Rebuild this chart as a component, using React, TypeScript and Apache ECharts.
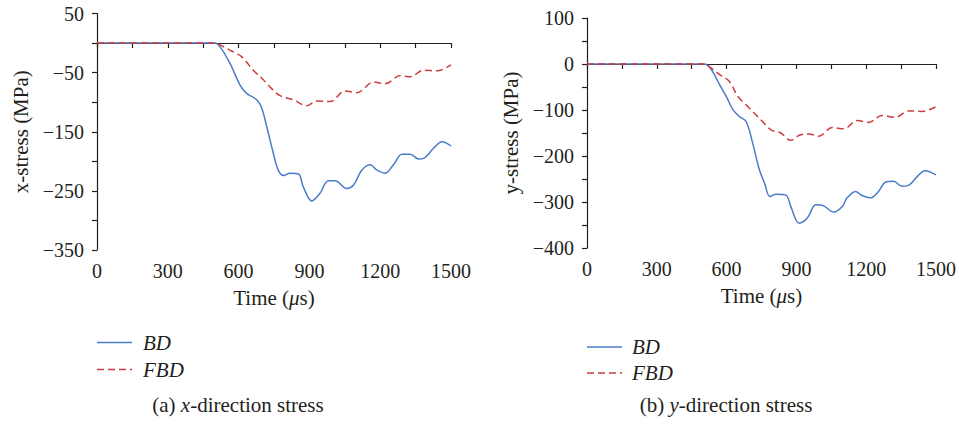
import React, { useEffect, useRef } from 'react';
import * as echarts from 'echarts';

// ---- data ----
const xTimeBD = [0, 500, 521, 563, 606, 634, 677, 698, 719, 747, 768, 790, 818, 853, 874, 910, 945, 980, 1009, 1058, 1087, 1122, 1158, 1186, 1221, 1256, 1292, 1327, 1363, 1384, 1426, 1462, 1500];
const xStressBD = [0, 0, -6, -34, -71, -85, -96, -110, -141, -186, -215, -224, -220, -221, -243, -267, -254, -233, -233, -246, -240, -215, -206, -215, -220, -206, -188, -188, -196, -195, -178, -167, -174];

const xTimeFBD = [0, 500, 521, 563, 613, 662, 705, 740, 776, 832, 889, 931, 988, 1051, 1101, 1172, 1221, 1285, 1327, 1384, 1441, 1500];
const xStressFBD = [0, 0, -3, -12, -23, -46, -62, -77, -89, -96, -106, -98, -99, -81, -84, -66, -69, -55, -57, -46, -47, -37];

const yTimeBD = [0, 505, 534, 570, 598, 627, 655, 684, 712, 741, 763, 786, 812, 855, 876, 912, 947, 983, 1011, 1061, 1097, 1118, 1154, 1182, 1218, 1253, 1282, 1318, 1353, 1382, 1417, 1453, 1500];
const yStressBD = [0, 0, -12, -45, -70, -99, -114, -125, -172, -230, -259, -288, -283, -285, -310, -346, -335, -306, -307, -322, -310, -291, -277, -286, -291, -277, -257, -255, -266, -264, -246, -232, -241];

const yTimeFBD = [0, 505, 534, 570, 612, 648, 698, 747, 791, 833, 876, 912, 954, 997, 1054, 1104, 1161, 1211, 1268, 1325, 1382, 1439, 1500];
const yStressFBD = [0, 0, -9, -23, -38, -70, -96, -121, -143, -150, -166, -155, -152, -157, -138, -141, -123, -127, -112, -116, -102, -103, -93];

const seriesNames = ['BD', 'FBD'];
const xAxisName = 'Time ({i|μ}s)';
const yAxisNames = ['x-stress (MPa)', 'y-stress (MPa)'];
const captions = [
  ['(a) ', 'x', '-direction stress'],
  ['(b) ', 'y', '-direction stress'],
];

// ---- styling ----
const FONT = '"Liberation Serif", "DejaVu Serif", "Times New Roman", serif';
const TEXT = '#231f20';
const BLUE = '#4a7bcb';
const RED = '#cc3d3d';

const pairs = (t: number[], v: number[]) => t.map((x, i) => [x, v[i]]);
const fmtNum = (v: number) => String(v).replace('-', '\u2212');

function xAxis(gridIndex: number) {
  return {
    type: 'value',
    gridIndex,
    min: 0,
    max: 1500,
    interval: 150,
    name: xAxisName,
    nameLocation: 'middle',
    nameGap: 37,
    nameTextStyle: {
      fontFamily: FONT,
      fontSize: 21,
      color: TEXT,
      rich: { i: { fontFamily: FONT, fontSize: 21, fontStyle: 'italic', color: TEXT } },
    },
    axisLine: { show: true, lineStyle: { color: TEXT, width: 1.2 } },
    axisTick: { show: true, inside: false, length: 5, lineStyle: { color: TEXT, width: 1.2 } },
    axisLabel: {
      fontFamily: FONT,
      fontSize: 20,
      color: TEXT,
      margin: 11,
      formatter: (v: number) => (v % 300 === 0 ? fmtNum(v) : ''),
    },
    splitLine: { show: false },
  };
}

function yAxis(gridIndex: number, min: number, max: number, name: string, labelOffset: number) {
  return {
    type: 'value',
    gridIndex,
    min,
    max,
    interval: 50,
    name,
    nameLocation: 'middle',
    nameGap: 66,
    nameTextStyle: { fontFamily: FONT, fontSize: 21, color: TEXT },
    axisLine: { show: true, onZero: false, lineStyle: { color: TEXT, width: 1.2 } },
    axisTick: { show: true, inside: false, length: 5, lineStyle: { color: TEXT, width: 1.2 } },
    axisLabel: {
      fontFamily: FONT,
      fontSize: 20,
      color: TEXT,
      margin: 13,
      formatter: (v: number) => ((((v - labelOffset) % 100) + 100) % 100 === 0 ? fmtNum(v) : ''),
    },
    splitLine: { show: false },
  };
}

function line(name: string, data: number[][], idx: number, dashed: boolean) {
  return {
    type: 'line',
    name,
    xAxisIndex: idx,
    yAxisIndex: idx,
    data,
    smooth: 0.35,
    symbol: 'none',
    lineStyle: { color: dashed ? RED : BLUE, width: 1.5, type: dashed ? [7, 4] : 'solid' },
    itemStyle: { color: dashed ? RED : BLUE },
    z: dashed ? 3 : 2,
  };
}

function legend(x: number, y1: number, y2: number, textX: number) {
  return [
    { type: 'line', shape: { x1: x, y1, x2: x + 35, y2: y1 }, style: { stroke: BLUE, lineWidth: 1.5 } },
    { type: 'text', x: textX, y: y1, style: { text: seriesNames[0], font: `italic 21px ${FONT}`, fill: TEXT, verticalAlign: 'middle' } },
    { type: 'line', shape: { x1: x, y1: y2, x2: x + 35, y2 }, style: { stroke: RED, lineWidth: 1.5, lineDash: [7, 4] } },
    { type: 'text', x: textX, y: y2, style: { text: seriesNames[1], font: `italic 21px ${FONT}`, fill: TEXT, verticalAlign: 'middle' } },
  ];
}

function caption(cx: number, y: number, parts: string[]) {
  return {
    type: 'text',
    x: cx,
    y,
    style: {
      text: `{n|${parts[0]}}{i|${parts[1]}}{n|${parts[2]}}`,
      align: 'center',
      verticalAlign: 'middle',
      rich: {
        n: { fontFamily: FONT, fontSize: 21, fill: TEXT, color: TEXT },
        i: { fontFamily: FONT, fontSize: 21, fontStyle: 'italic', fill: TEXT, color: TEXT },
      },
    },
  };
}

const option = {
  animation: false,
  backgroundColor: '#ffffff',
  grid: [
    { left: 97, top: 13.5, width: 354, height: 236.5, containLabel: false },
    { left: 587, top: 18, width: 351, height: 230, containLabel: false },
  ],
  xAxis: [xAxis(0), xAxis(1)],
  yAxis: [yAxis(0, -350, 50, yAxisNames[0], 50), yAxis(1, -400, 100, yAxisNames[1], 0)],
  series: [
    line(seriesNames[0], pairs(xTimeBD, xStressBD), 0, false),
    line(seriesNames[1], pairs(xTimeFBD, xStressFBD), 0, true),
    line(seriesNames[0], pairs(yTimeBD, yStressBD), 1, false),
    line(seriesNames[1], pairs(yTimeFBD, yStressFBD), 1, true),
  ],
  graphic: [
    ...legend(97, 342.5, 369.5, 143),
    ...legend(587, 347, 373, 632),
    caption(238, 405, captions[0]),
    caption(726, 405, captions[1]),
  ],
};

export default function App() {
  const ref = useRef<HTMLDivElement>(null);
  useEffect(() => {
    if (!ref.current) return;
    const chart = echarts.init(ref.current, null, { renderer: 'svg' });
    chart.setOption(option as any);
    return () => chart.dispose();
  }, []);
  return (
    <div
      ref={ref}
      style={{ position: 'absolute', left: 0, top: 0, width: 959, height: 424, background: '#fff' }}
    />
  );
}
